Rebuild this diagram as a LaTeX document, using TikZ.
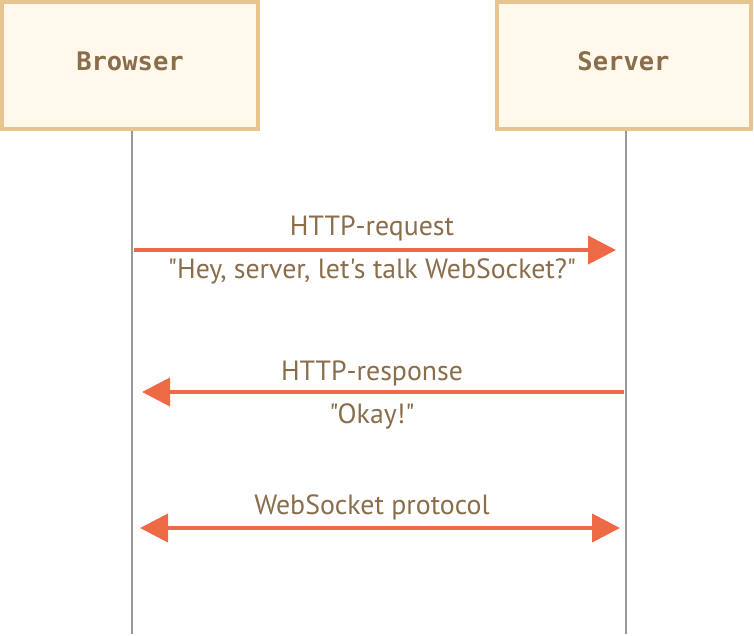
\documentclass[tikz,border=0pt]{standalone}
\usepackage{fontspec}
\newfontfamily\lblfont{PT Sans}
\newfontfamily\boxmono{DejaVu Sans Mono}
\usetikzlibrary{arrows.meta}
\definecolor{boxborder}{HTML}{E8C48E}
\definecolor{boxfill}{HTML}{FFF8EB}
\definecolor{txt}{HTML}{8A6D4B}
\definecolor{arr}{HTML}{EE6A47}
\definecolor{life}{HTML}{999999}
\tikzset{
  actor/.style={draw=boxborder, fill=boxfill, line width=4pt, minimum height=127pt, inner sep=0pt, text=txt, font=\boxmono\bfseries\fontsize{25.5}{28}\selectfont},
  lifeline/.style={draw=life, line width=2pt},
  msg/.style={draw=arr, line width=4pt},
  lbl/.style={text=txt, font=\lblfont\fontsize{27.8}{32}\selectfont, inner sep=0pt, anchor=base}
}
\begin{document}
\begin{tikzpicture}[x=1pt,y=-1pt]
\useasboundingbox (0,0) rectangle (754,636);
\node[actor, minimum width=256pt] (browser) at (130,65.5) {\raisebox{9pt}{Browser}};
\node[actor, minimum width=254pt] (server) at (623.5,65.5) {\raisebox{9pt}{Server}};
\coordinate (bend) at (131.5,634);
\coordinate (send) at (626,634);
\draw[lifeline] (browser.south -| bend) -- (bend);
\draw[lifeline] (server.south -| send) -- (send);
% arrow 1
\coordinate (a1s) at (134,250);
\coordinate (a1e) at (616,250);
\draw[msg, -{Triangle[length=28pt,width=28pt]}, arr] (a1s) -- (a1e);
\node[lbl] (l1) at (372,236) {HTTP-request};
\node[lbl] (l1b) at (372,278) {"Hey, server, let's talk WebSocket?"};
% arrow 2
\coordinate (a2s) at (624,392);
\coordinate (a2e) at (142,392);
\draw[msg, -{Triangle[length=28pt,width=28pt]}, arr] (a2s) -- (a2e);
\node[lbl] (l2) at (372,380) {HTTP-response};
\node[lbl] (l2b) at (372,423) {"Okay!"};
% arrow 3
\coordinate (a3s) at (140,528);
\coordinate (a3e) at (620,528);
\draw[msg, {Triangle[length=28pt,width=28pt]}-{Triangle[length=28pt,width=28pt]}, arr] (a3s) -- (a3e);
\node[lbl] (l3) at (372,514) {WebSocket protocol};
\end{tikzpicture}
\end{document}
